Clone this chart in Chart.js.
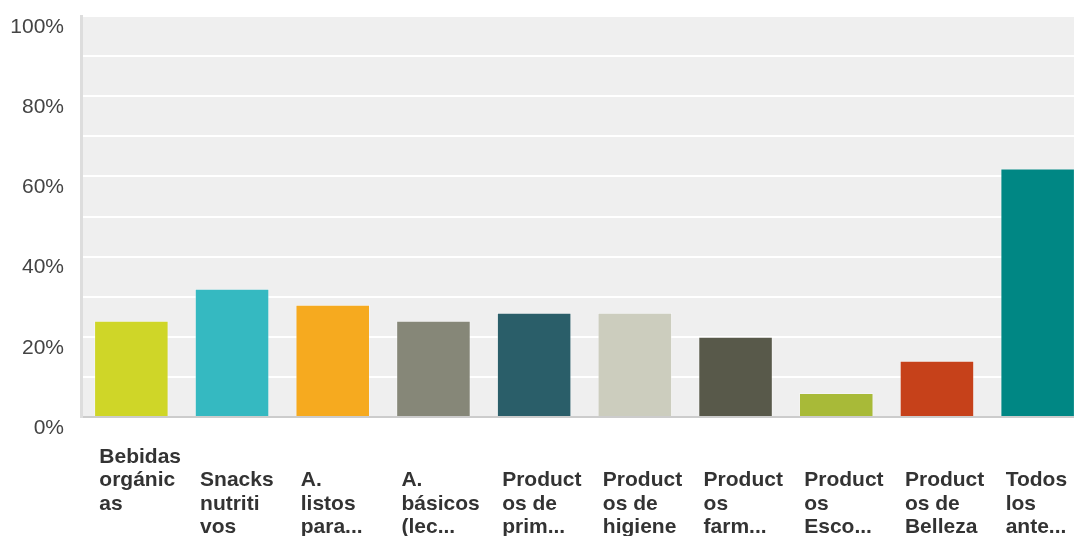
<!DOCTYPE html>
<html>
<head>
<meta charset="utf-8">
<script src="https://cdn.jsdelivr.net/npm/chart.js@4"></script>
<style>
  html, body { margin: 0; padding: 0; background: #fff; overflow: hidden; }
  #wrap { width: 1074px; height: 536px; overflow: hidden; }
</style>
</head>
<body>
<div id="wrap"><canvas id="surveyChart" width="1088" height="536"></canvas></div>
<script>
const categories = [
    ["Bebidas", "orgánic", "as"],
    ["", "Snacks", "nutriti", "vos"],
    ["", "A.", "listos", "para..."],
    ["", "A.", "básicos", "(lec..."],
    ["", "Product", "os de", "prim..."],
    ["", "Product", "os de", "higiene"],
    ["", "Product", "os", "farm..."],
    ["", "Product", "os", "Esco..."],
    ["", "Product", "os de", "Belleza"],
    ["", "Todos", "los", "ante..."]
];
const percentages = [24, 32, 28, 24, 26, 26, 20, 6, 14, 62];
const barColors = ["#cfd628", "#35b9c1", "#f6aa1f", "#868778", "#2a5e69",
                   "#cccdbe", "#58594a", "#a8ba38", "#c6411a", "#008784"];
const yTicks = [0, 20, 40, 60, 80, 100];

const plotBackground = {
    id: "plotBackground",
    beforeDraw(chart) {
        const { ctx, chartArea } = chart;
        ctx.save();
        ctx.fillStyle = "#efefef";
        ctx.fillRect(chartArea.left, chartArea.top, chartArea.right - chartArea.left, chartArea.bottom - chartArea.top);
        ctx.restore();
    }
};

const ctx = document.getElementById("surveyChart").getContext("2d");
new Chart(ctx, {
    type: "bar",
    data: {
        labels: categories,
        datasets: [{
            data: percentages,
            backgroundColor: barColors,
            borderColor: "rgba(255,255,255,0.35)",
            borderWidth: 1,
            barPercentage: 0.74,
            categoryPercentage: 1
        }]
    },
    options: {
        responsive: false,
        animation: false,
        layout: { padding: { top: 16, right: 0, left: 0, bottom: 0 } },
        plugins: {
            legend: { display: false },
            tooltip: { enabled: false }
        },
        scales: {
            x: {
                grid: { display: false },
                border: { display: true, color: "#cccccc", width: 2 },
                ticks: {
                    color: "#333333",
                    font: { family: "'Liberation Sans', Arial, sans-serif", size: 21, weight: "bold", lineHeight: 1.12 },
                    align: "start",
                    labelOffset: -32,
                    padding: 20,
                    maxRotation: 0,
                    minRotation: 0,
                    autoSkip: false
                },
                afterFit(scale) {
                    scale.height = 119;
                    scale.paddingLeft = 0;
                    scale.paddingRight = 0;
                }
            },
            y: {
                min: 0,
                max: 100,
                grid: { color: "#ffffff", lineWidth: 2, drawTicks: false },
                border: { display: true, color: "#dddddd", width: 3 },
                ticks: {
                    stepSize: 10,
                    autoSkip: false,
                    color: "#444444",
                    padding: 17,
                    labelOffset: 11,
                    font: { family: "'Liberation Sans', Arial, sans-serif", size: 21 },
                    callback: v => yTicks.includes(v) ? v + "%" : ""
                },
                afterFit(scale) {
                    scale.width = 81;
                    scale.paddingTop = 0;
                    scale.paddingBottom = 0;
                }
            }
        }
    },
    plugins: [plotBackground]
});
</script>
</body>
</html>
